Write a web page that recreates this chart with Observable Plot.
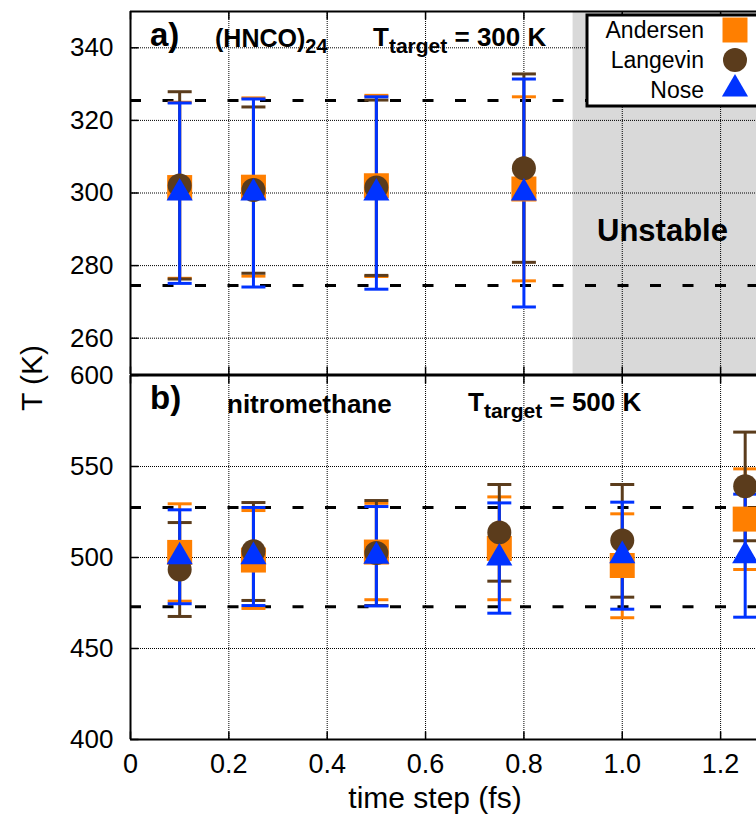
<!DOCTYPE html>
<html><head><meta charset="utf-8">
<script src="https://cdn.jsdelivr.net/npm/d3@7"></script>
<script src="https://cdn.jsdelivr.net/npm/@observablehq/plot@0.6"></script>
<style>
html,body{margin:0;padding:0;background:#fff;}
#wrap{position:relative;width:756px;height:818px;overflow:hidden;background:#fff;}
#wrap > svg{position:absolute;left:0;}
</style></head><body><div id="wrap"></div>
<script>
// ---------- shared x axis ----------
const xTicks = [0, 0.2, 0.4, 0.6, 0.8, 1.0, 1.2];
const xTickLabels = ["0", "0.2", "0.4", "0.6", "0.8", "1.0", "1.2"];
const xMax = 1.273;
const unstableFrom = 0.9;

// ---------- series ----------
const seriesNames = ["Andersen", "Langevin", "Nose"];
const seriesColors = ["#ff7f00", "#5b3c1c", "#0033ff"];
const seriesSymbols = ["square", "circle", "triangle"];

// ---------- panel a) (HNCO)24, T_target = 300 K ----------
const topYDomain = [250, 350];
const topYTicks = [260, 280, 300, 320, 340];
const topBand = [274.5, 325.5];
const topX = [0.1, 0.25, 0.5, 0.8];
const topAndersenMean = [301.5, 301.6, 302.0, 301.1];
const topAndersenLo   = [276.5, 277.1, 277.0, 275.8];
const topAndersenHi   = [325.0, 326.2, 326.9, 326.5];
const topLangevinMean = [302.1, 300.8, 301.5, 306.8];
const topLangevinLo   = [276.3, 277.9, 277.3, 280.9];
const topLangevinHi   = [327.9, 323.7, 325.6, 332.8];
const topNoseMean     = [300.0, 300.0, 300.0, 300.0];
const topNoseLo       = [275.1, 274.1, 273.5, 268.6];
const topNoseHi       = [324.8, 325.9, 326.5, 331.4];

// ---------- panel b) nitromethane, T_target = 500 K ----------
const botYDomain = [400, 600];
const botYTicks = [400, 450, 500, 550, 600];
const botBand = [473, 527.5];
const botX = [0.1, 0.25, 0.5, 0.75, 1.0, 1.25];
const botAndersenMean = [502.8, 498.6, 503.0, 505.0, 495.6, 521.1];
const botAndersenLo   = [476.0, 472.0, 476.8, 476.8, 466.9, 493.4];
const botAndersenHi   = [529.5, 525.8, 529.8, 533.3, 524.0, 548.7];
const botLangevinMean = [493.4, 503.5, 502.5, 513.8, 509.3, 539.1];
const botLangevinLo   = [467.6, 476.4, 473.6, 487.0, 478.2, 509.2];
const botLangevinHi   = [519.2, 530.2, 531.3, 540.1, 540.1, 568.9];
const botNoseMean     = [500.4, 500.5, 500.7, 499.7, 501.0, 501.0];
const botNoseLo       = [474.6, 473.6, 473.4, 469.4, 471.6, 467.2];
const botNoseHi       = [526.2, 527.5, 528.0, 530.0, 530.4, 534.8];

// ---------- build tables ----------
function rows(xs, mean, lo, hi) {
  return xs.map((x, i) => ({x, mean: mean[i], lo: lo[i], hi: hi[i]}));
}
const topSeries = [
  rows(topX, topAndersenMean, topAndersenLo, topAndersenHi),
  rows(topX, topLangevinMean, topLangevinLo, topLangevinHi),
  rows(topX, topNoseMean, topNoseLo, topNoseHi)
];
const botSeries = [
  rows(botX, botAndersenMean, botAndersenLo, botAndersenHi),
  rows(botX, botLangevinMean, botLangevinLo, botLangevinHi),
  rows(botX, botNoseMean, botNoseLo, botNoseHi)
];

const FONT = "'Liberation Sans', Arial, Helvetica, sans-serif";
const symbolR = [14.1, 12, 9.7];
const capSymbol = {
  draw(context, size) {
    const w = Math.sqrt(size / Math.PI);
    context.moveTo(-w, 0);
    context.lineTo(w, 0);
  }
};
const tickUp = {draw(c) { c.moveTo(0, 0); c.lineTo(0, -8); }};
const tickDown = {draw(c) { c.moveTo(0, 0); c.lineTo(0, 8); }};
const tickRight = {draw(c) { c.moveTo(0, 0); c.lineTo(8, 0); }};

function panel({series, yDomain, yTicks, band, height, marginTop, marginBottom, xLabels, unstable}) {
  const marks = [];
  if (unstable) {
    marks.push(Plot.rect([{x1: unstableFrom, x2: xMax}], {x1: "x1", x2: "x2", fill: "#d9d9d9"}));
  }
  const gridStyle = {stroke: "#000", strokeWidth: 1, strokeDasharray: "1,1"};
  marks.push(Plot.ruleX(xTicks.filter(d => d > 0), gridStyle));
  marks.push(Plot.ruleY(yTicks.filter(d => d > yDomain[0] && d < yDomain[1]), gridStyle));
  marks.push(Plot.ruleY(band, {stroke: "#000", strokeWidth: 3, strokeDasharray: "11,21.5"}));
  series.forEach((data, k) => {
    const c = seriesColors[k];
    marks.push(Plot.ruleX(data, {x: "x", y1: "lo", y2: "hi", stroke: c, strokeWidth: 3}));
    marks.push(Plot.dot(data, {x: "x", y: "hi", symbol: capSymbol, r: 12, stroke: c, strokeWidth: 3, fill: "none"}));
    marks.push(Plot.dot(data, {x: "x", y: "lo", symbol: capSymbol, r: 12, stroke: c, strokeWidth: 3, fill: "none"}));
  });
  series.forEach((data, k) => {
    marks.push(Plot.dot(data, {x: "x", y: "mean", symbol: seriesSymbols[k], r: symbolR[k], fill: seriesColors[k]}));
  });
  const tickStyle = {stroke: "#000", strokeWidth: 1.5, fill: "none", r: 5};
  marks.push(Plot.dot(xTicks, {x: d => d, y: () => yDomain[0], symbol: tickUp, ...tickStyle}));
  marks.push(Plot.dot(xTicks, {x: d => d, y: () => yDomain[1], symbol: tickDown, ...tickStyle}));
  marks.push(Plot.dot(yTicks, {x: () => 0, y: d => d, symbol: tickRight, ...tickStyle}));
  marks.push(Plot.ruleX([0], {stroke: "#000", strokeWidth: 2}));
  marks.push(Plot.ruleY(yDomain, {stroke: "#000", strokeWidth: 2}));
  marks.push(Plot.axisY(yTicks, {anchor: "left", tickSize: 0, tickPadding: 17, fontSize: 26, label: null}));
  if (xLabels) {
    marks.push(Plot.axisX(xTicks, {anchor: "bottom", tickSize: 0, tickPadding: 14, fontSize: 27,
      tickFormat: d => xTickLabels[xTicks.indexOf(d)], label: null}));
  }
  return Plot.plot({
    width: 756, height, marginTop, marginBottom, marginLeft: 130, marginRight: 0,
    x: {domain: [0, xMax], label: null, axis: xLabels ? undefined : null},
    y: {domain: yDomain, label: null},
    style: {fontFamily: FONT, fontSize: "26px", background: "transparent", overflow: "visible", color: "#000"},
    marks
  });
}

const wrap = document.getElementById("wrap");
const topPlot = panel({series: topSeries, yDomain: topYDomain, yTicks: topYTicks, band: topBand,
  height: 375, marginTop: 11, marginBottom: 1, xLabels: false, unstable: true});
topPlot.style.top = "0px";
wrap.appendChild(topPlot);
const botPlot = panel({series: botSeries, yDomain: botYDomain, yTicks: botYTicks, band: botBand,
  height: 444, marginTop: 1, marginBottom: 79, xLabels: true, unstable: false});
botPlot.style.top = "374px";
wrap.appendChild(botPlot);

const ov = d3.create("svg").attr("width", 756).attr("height", 818)
  .style("top", "0px").style("pointer-events", "none").style("font-family", FONT);
function bold(x, y, size, parts) {
  const t = ov.append("text").attr("x", x).attr("y", y).attr("font-weight", "bold")
    .attr("font-size", size).attr("fill", "#000");
  parts.forEach(p => {
    const s = t.append("tspan").text(p.t);
    if (p.size) s.attr("font-size", p.size);
    if (p.dy) s.attr("dy", p.dy);
  });
}
bold(150, 46, 33, [{t: "a)"}]);
bold(215, 47, 25, [{t: "(HNCO)"}, {t: "24", size: 20, dy: 6}]);
bold(373, 46, 26, [{t: "T"}, {t: "target", size: 21, dy: 7}, {t: " = 300 K", dy: -7}]);
bold(597, 241, 31, [{t: "Unstable"}]);
bold(150, 409, 33, [{t: "b)"}]);
bold(227, 413, 26, [{t: "nitromethane"}]);
bold(468, 411, 26, [{t: "T"}, {t: "target", size: 21, dy: 7}, {t: " = 500 K", dy: -7}]);
ov.append("text").attr("x", 435).attr("y", 808).attr("text-anchor", "middle")
  .attr("font-size", 30).text("time step (fs)");
ov.append("text").attr("transform", "translate(42,378) rotate(-90)").attr("text-anchor", "middle")
  .attr("font-size", 30).text("T (K)");
ov.append("rect").attr("x", 587).attr("y", 15).attr("width", 200).attr("height", 91)
  .attr("fill", "#fff").attr("stroke", "#000").attr("stroke-width", 3);
const legendY = [30, 60, 89];
const legendBase = [37.5, 67.5, 98];
const d3Sym = {square: d3.symbolSquare, circle: d3.symbolCircle, triangle: d3.symbolTriangle};
seriesNames.forEach((name, k) => {
  ov.append("text").attr("x", 704).attr("y", legendBase[k]).attr("text-anchor", "end")
    .attr("font-size", 23).text(name);
  ov.append("path").attr("transform", `translate(735,${legendY[k]})`)
    .attr("d", d3.symbol(d3Sym[seriesSymbols[k]], Math.PI * symbolR[k] * symbolR[k])())
    .attr("fill", seriesColors[k]);
});
wrap.appendChild(ov.node());
</script></body></html>
